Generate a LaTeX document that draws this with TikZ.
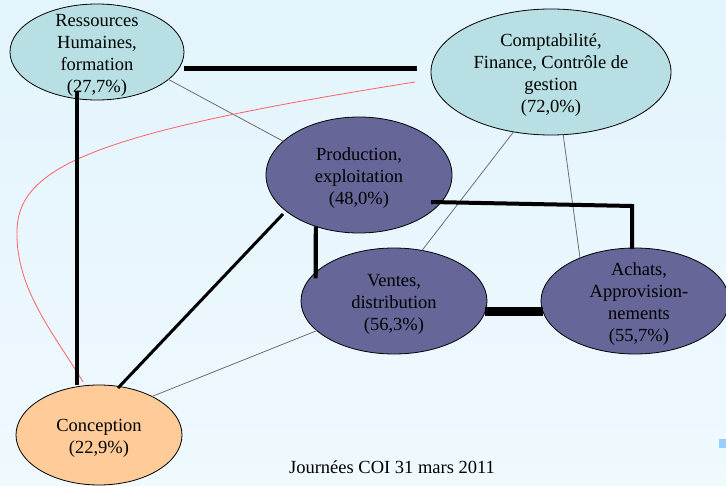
\documentclass[tikz,border=0pt]{standalone}
\usepackage{fontspec}
\setmainfont{Liberation Serif}
\usetikzlibrary{shapes.geometric, calc}
\definecolor{paleteal}{RGB}{184,224,228}
\definecolor{slateviolet}{RGB}{102,102,153}
\definecolor{peach}{RGB}{255,204,153}
\definecolor{bgtop}{RGB}{227,244,252}
\definecolor{bgbot}{RGB}{239,249,254}
\definecolor{linkgray}{RGB}{110,110,110}
\definecolor{linkred}{RGB}{255,95,105}
\definecolor{cornersq}{RGB}{153,204,255}

\begin{document}
\begin{tikzpicture}[x=1pt, y=-1pt, line join=miter, font=\fontsize{18.5}{22}\selectfont,
		blob/.style={ellipse, draw=black, line width=0.8pt, inner sep=0pt, outer sep=0pt},
		every label/.style={align=center, yshift=-3pt},
		strong/.style={black, line width=#1},
		fine/.style={linkgray, line width=0.8pt}]
		
		%========================
		% background
		%========================
		\shade[top color=bgtop, bottom color=bgbot] (0,0) rectangle (726,486);
		\useasboundingbox (0,0) rectangle (726,486);
		\fill[cornersq] (719,439) rectangle (726,448);
		
		%========================
		% services
		%========================
		\node[blob, fill=paleteal, minimum width=174, minimum height=96,
		label=center:{Ressources\\Humaines,\\formation\\(27,7\%)}] (rh) at (97,52) {};
		\node[blob, fill=paleteal, minimum width=240, minimum height=126,
		label=center:{Comptabilité,\\Finance, Contrôle de\\gestion\\(72,0\%)}] (compta) at (551,72) {};
		\node[blob, fill=slateviolet, minimum width=186, minimum height=116,
		label=center:{Production,\\exploitation\\(48,0\%)}] (prod) at (359,175) {};
		\node[blob, fill=slateviolet, minimum width=186, minimum height=106,
		label=center:{Ventes,\\distribution\\(56,3\%)}] (vent) at (394,301) {};
		\node[blob, fill=slateviolet, minimum width=188, minimum height=106,
		label={[xshift=4pt]center:{Achats,\\Approvision-\\nements\\(55,7\%)}}] (achats) at (635,301) {};
		\node[blob, fill=peach, minimum width=166, minimum height=100,
		label=center:{Conception\\(22,9\%)}] (conc) at (99,435) {};
		
		% footer
		\node (foot) at (392,467) {Journées COI 31 mars 2011};
		
		%========================
		% links
		%========================
		% weak links
		\draw[fine] (rh.-21) -- (prod.156);
		\draw[fine] (compta.-122) -- (vent.61);
		\draw[fine] (compta.-79) -- (achats.142);
		\draw[fine] (vent.-159) -- (conc.36);
		\draw[linkred, line width=0.8pt] ($(compta.west)+(-16,10)$)
		.. controls (100,132) and (17,165) .. (17,232)
		.. controls (16,290) and (55,335) .. ($(conc.north)+(-16,-3)$);
		
		% strong links
		\draw[strong=5pt] ($(rh.east)+(0,17)$) -- ($(compta.west)+(-14,-3)$);
		\draw[strong=3.3pt] ($(rh.south)+(-20,-8)$) -- ($(conc.north)+(-22,0)$);
		\draw[strong=3pt] ($(prod.center)+(-76,39)$) -- ($(conc.center)+(19,-47)$);
		\draw[strong=4.2pt] (prod.-130) -- ($(vent.160)+(0,6)$);
		\draw[strong=4pt] ($(prod.center)+(72,27)$) -- ($(achats.north)+(-3,-42)$)
		-- ($(achats.north)+(-3,1)$);
		\draw[strong=9pt] ($(vent.east)+(-2,11)$) -- ($(achats.west)+(2,11)$);
		
	\end{tikzpicture}
\end{document}
